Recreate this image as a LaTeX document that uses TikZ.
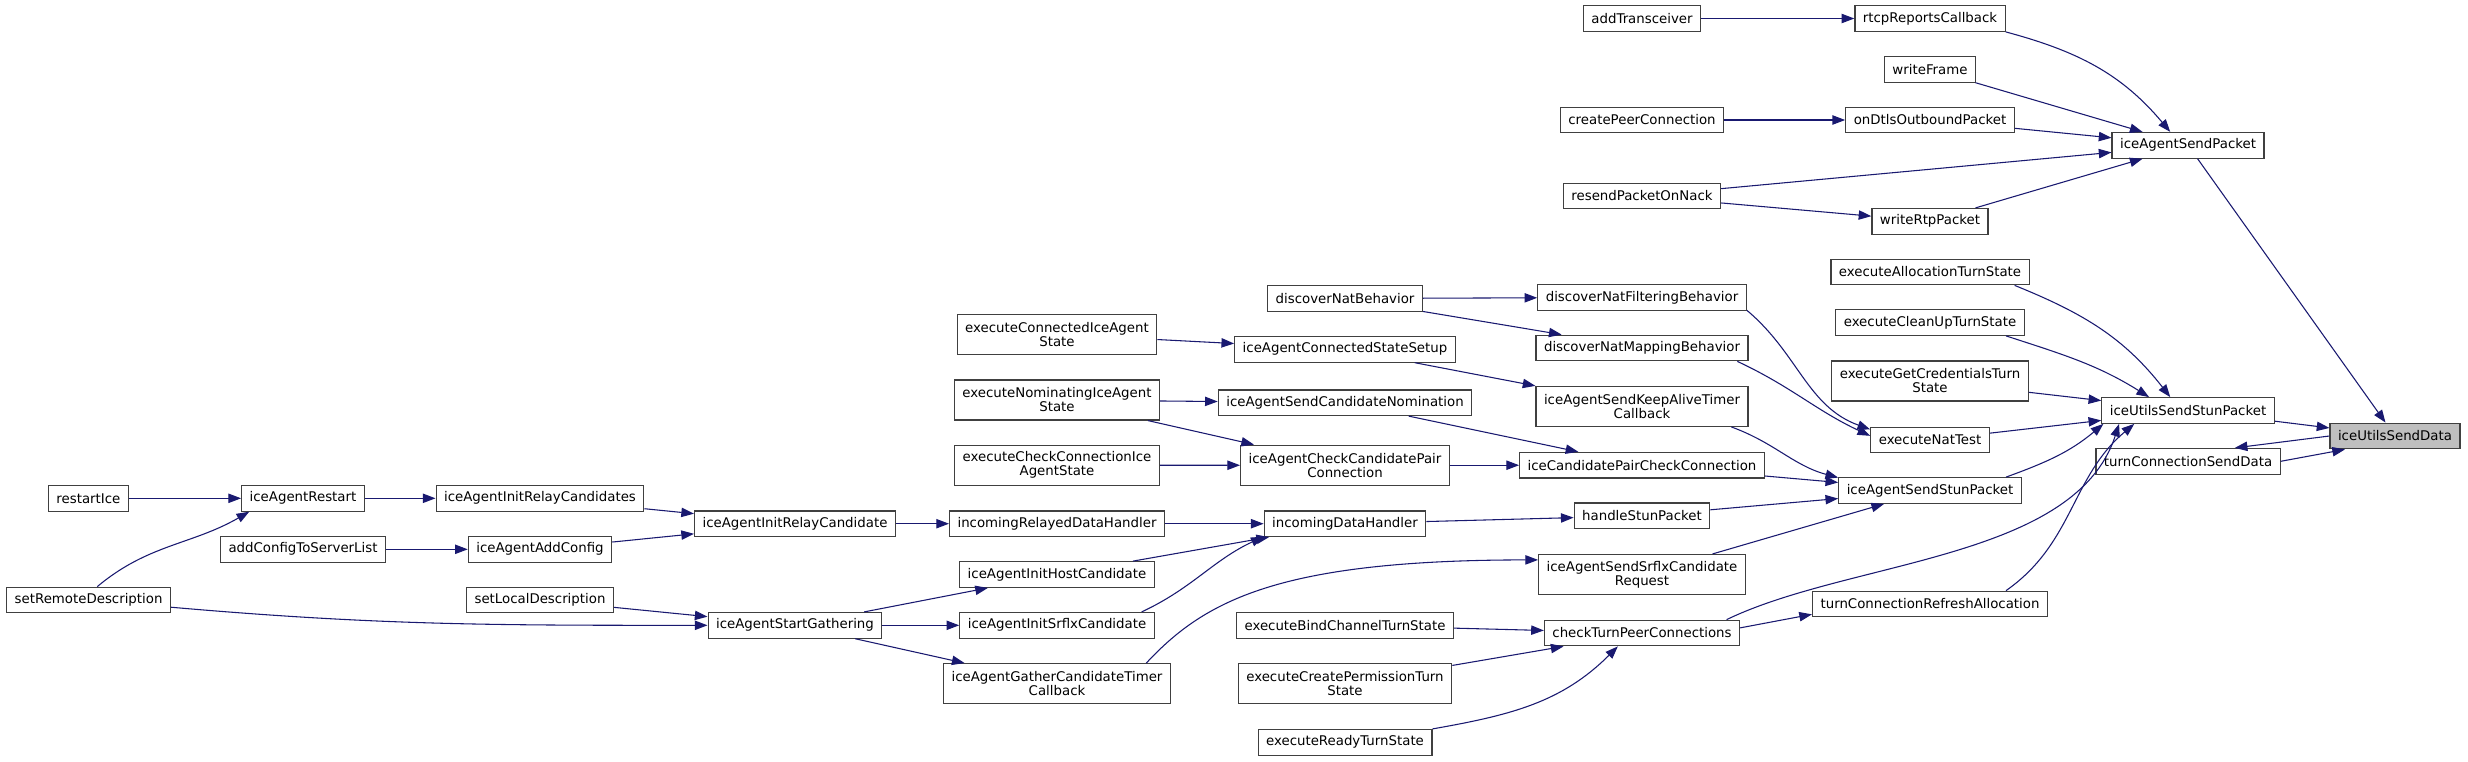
\documentclass[tikz,border=0pt]{standalone}
\usepackage{fontspec}
\setmainfont{DejaVu Sans}
\usetikzlibrary{arrows.meta}
\definecolor{edgeblue}{RGB}{25,25,112}

\begin{document}
\begin{tikzpicture}[x=0.75pt, y=0.75pt, font=\fontsize{10}{10.5}\selectfont,
        fn/.style={draw=black!75, line width=0.9pt, fill=white, align=center,
          inner xsep=6pt, inner ysep=4.6pt, minimum height=19.2pt},
        fn2/.style={fn, minimum height=30pt},
        target/.style={fn, fill=black!25},
        call/.style={draw=edgeblue, line width=0.8pt,
          -{Triangle[length=9.5pt,width=7pt]}}]
      \fill[white] (0,0) rectangle (2468,-761);
      \useasboundingbox (0,0) rectangle (2468,-761);
      \node[fn]     (addtr)  at (1642,-18.5)  {addTransceiver};
      \node[fn]     (rtcp)   at (1930,-18.5)  {rtcpReportsCallback};
      \node[fn]     (wframe) at (1930,-69.3)  {writeFrame};
      \node[fn]     (cpc)    at (1642,-120)   {createPeerConnection};
      \node[fn]     (dtls)   at (1930,-120)   {onDtlsOutboundPacket};
      \node[fn]     (isp)    at (2188,-145.3) {iceAgentSendPacket};
      \node[fn]     (rpon)   at (1642,-196)   {resendPacketOnNack};
      \node[fn]     (wrtp)   at (1930,-221.3) {writeRtpPacket};
      \node[fn]     (eatt)   at (1930,-272)   {executeAllocationTurnState};
      \node[fn]     (dnb)    at (1345,-298.5) {discoverNatBehavior};
      \node[fn]     (dnfb)   at (1642,-297.4) {discoverNatFilteringBehavior};
      \node[fn]     (ecut)   at (1930,-322.5) {executeCleanUpTurnState};
      \node[fn2]    (ecias)  at (1057,-334.3) {executeConnectedIceAgent\\State};
      \node[fn]     (iacss)  at (1345,-349.3) {iceAgentConnectedStateSetup};
      \node[fn]     (dnmb)   at (1642,-348)   {discoverNatMappingBehavior};
      \node[fn2]    (egcts)  at (1930,-381)   {executeGetCredentialsTurn\\State};
      \node[fn2]    (enias)  at (1057,-400)   {executeNominatingIceAgent\\State};
      \node[fn]     (iascn)  at (1345,-402.7) {iceAgentSendCandidateNomination};
      \node[fn2]    (iasktc) at (1642,-406.3) {iceAgentSendKeepAliveTimer\\Callback};
      \node[fn]     (iusp)   at (2188,-410.5) {iceUtilsSendStunPacket};
      \node[target] (isd)    at (2395,-436)   {iceUtilsSendData};
      \node[fn]     (exnat)  at (1930,-440)   {executeNatTest};
      \node[fn]     (tcsd)   at (2188,-461.3) {turnConnectionSendData};
      \node[fn2]    (ecc)    at (1057,-465.3) {executeCheckConnectionIce\\AgentState};
      \node[fn2]    (iaccpc) at (1345,-465.2) {iceAgentCheckCandidatePair\\Connection};
      \node[fn]     (icpcc)  at (1642,-465.2) {iceCandidatePairCheckConnection};
      \node[fn]     (iasp)   at (1930,-490.5) {iceAgentSendStunPacket};
      \node[fn]     (rice)   at (88.4,-498.3) {restartIce};
      \node[fn]     (iar)    at (303,-498.3)  {iceAgentRestart};
      \node[fn]     (iairs)  at (540,-498.3)  {iceAgentInitRelayCandidates};
      \node[fn]     (iairc)  at (795,-523.7)  {iceAgentInitRelayCandidate};
      \node[fn]     (irdh)   at (1057,-523.7) {incomingRelayedDataHandler};
      \node[fn]     (idh)    at (1345,-523.7) {incomingDataHandler};
      \node[fn]     (hsp)    at (1642,-515.8) {handleStunPacket};
      \node[fn]     (actsl)  at (303,-549.3)  {addConfigToServerList};
      \node[fn]     (iaac)   at (540,-549.3)  {iceAgentAddConfig};
      \node[fn]     (iaihc)  at (1057,-574.5) {iceAgentInitHostCandidate};
      \node[fn2]    (iasscr) at (1642,-574.5) {iceAgentSendSrflxCandidate\\Request};
      \node[fn]     (srd)    at (88.6,-600)   {setRemoteDescription};
      \node[fn]     (sld)    at (540,-600)    {setLocalDescription};
      \node[fn]     (tcra)   at (1930,-604)   {turnConnectionRefreshAllocation};
      \node[fn]     (iasg)   at (795,-625.3)  {iceAgentStartGathering};
      \node[fn]     (iaisc)  at (1057,-625.3) {iceAgentInitSrflxCandidate};
      \node[fn]     (ebcts)  at (1345,-625.3) {executeBindChannelTurnState};
      \node[fn]     (ctpc)   at (1642,-633)   {checkTurnPeerConnections};
      \node[fn2]    (iagctc) at (1057,-683.7) {iceAgentGatherCandidateTimer\\Callback};
      \node[fn2]    (ecpts)  at (1345,-683.7) {executeCreatePermissionTurn\\State};
      \node[fn]     (erts)   at (1345,-742.3) {executeReadyTurnState};
      \foreach \a/\b in {addtr/rtcp, wframe/isp, cpc/dtls, dtls/isp, rpon/isp,
          rpon/wrtp, wrtp/isp, isp/isd, egcts/iusp, exnat/iusp, iusp/isd,
          ecias/iacss, iacss/iasktc, dnb/dnfb, dnb/dnmb, enias/iascn,
          enias/iaccpc, ecc/iaccpc, iascn/icpcc, iaccpc/icpcc, icpcc/iasp,
          hsp/iasp, iasscr/iasp, rice/iar, iar/iairs, iairs/iairc, iaac/iairc,
          actsl/iaac, iairc/irdh, irdh/idh, iaihc/idh, idh/hsp, sld/iasg,
          iasg/iaihc, iasg/iaisc, iasg/iagctc, ebcts/ctpc, ecpts/ctpc}
        \draw[call] (\a) -- (\b);
      \draw[call] (isd.west) -- (tcsd.16);
      \draw[call] (tcsd.east) -- (isd.195);
      \draw[call] (ctpc.3) -- (tcra.185);
      \draw[call] (rtcp.south east) to[out=-15,in=130] (isp.143);
      \draw[call] (eatt.-9) to[out=-22,in=128] (iusp.143);
      \draw[call] (ecut.-10) to[out=-18,in=148] (iusp.161);
      \draw[call] (iasp.10) to[out=20,in=-140] (iusp.189);
      \draw[call] (ctpc.9) .. controls (1850,-560) and (2075,-560) .. (iusp.191);
      \draw[call] (tcra.10) to[out=35,in=-140] (iusp.194);
      \draw[call] (iasktc.-13) to[out=-20,in=165] (iasp.172);
      \draw[call] (dnfb.-7) to[out=-40,in=160] (exnat.170);
      \draw[call] (dnmb.-8) to[out=-25,in=155] (exnat.176);
      \draw[call] (iaisc.9) to[out=25,in=-155] (idh.189);
      \draw[call] (iagctc.13) .. controls (1205,-600) and (1280,-560) .. (iasscr.172);
      \draw[call] (srd.-5) to[out=-5,in=180] (iasg.west);
      \draw[call] (srd.57) to[out=40,in=-150] (iar.194);
      \draw[call] (erts.north east) to[out=10,in=-135] (ctpc.-151);
      \end{tikzpicture}
\end{document}
